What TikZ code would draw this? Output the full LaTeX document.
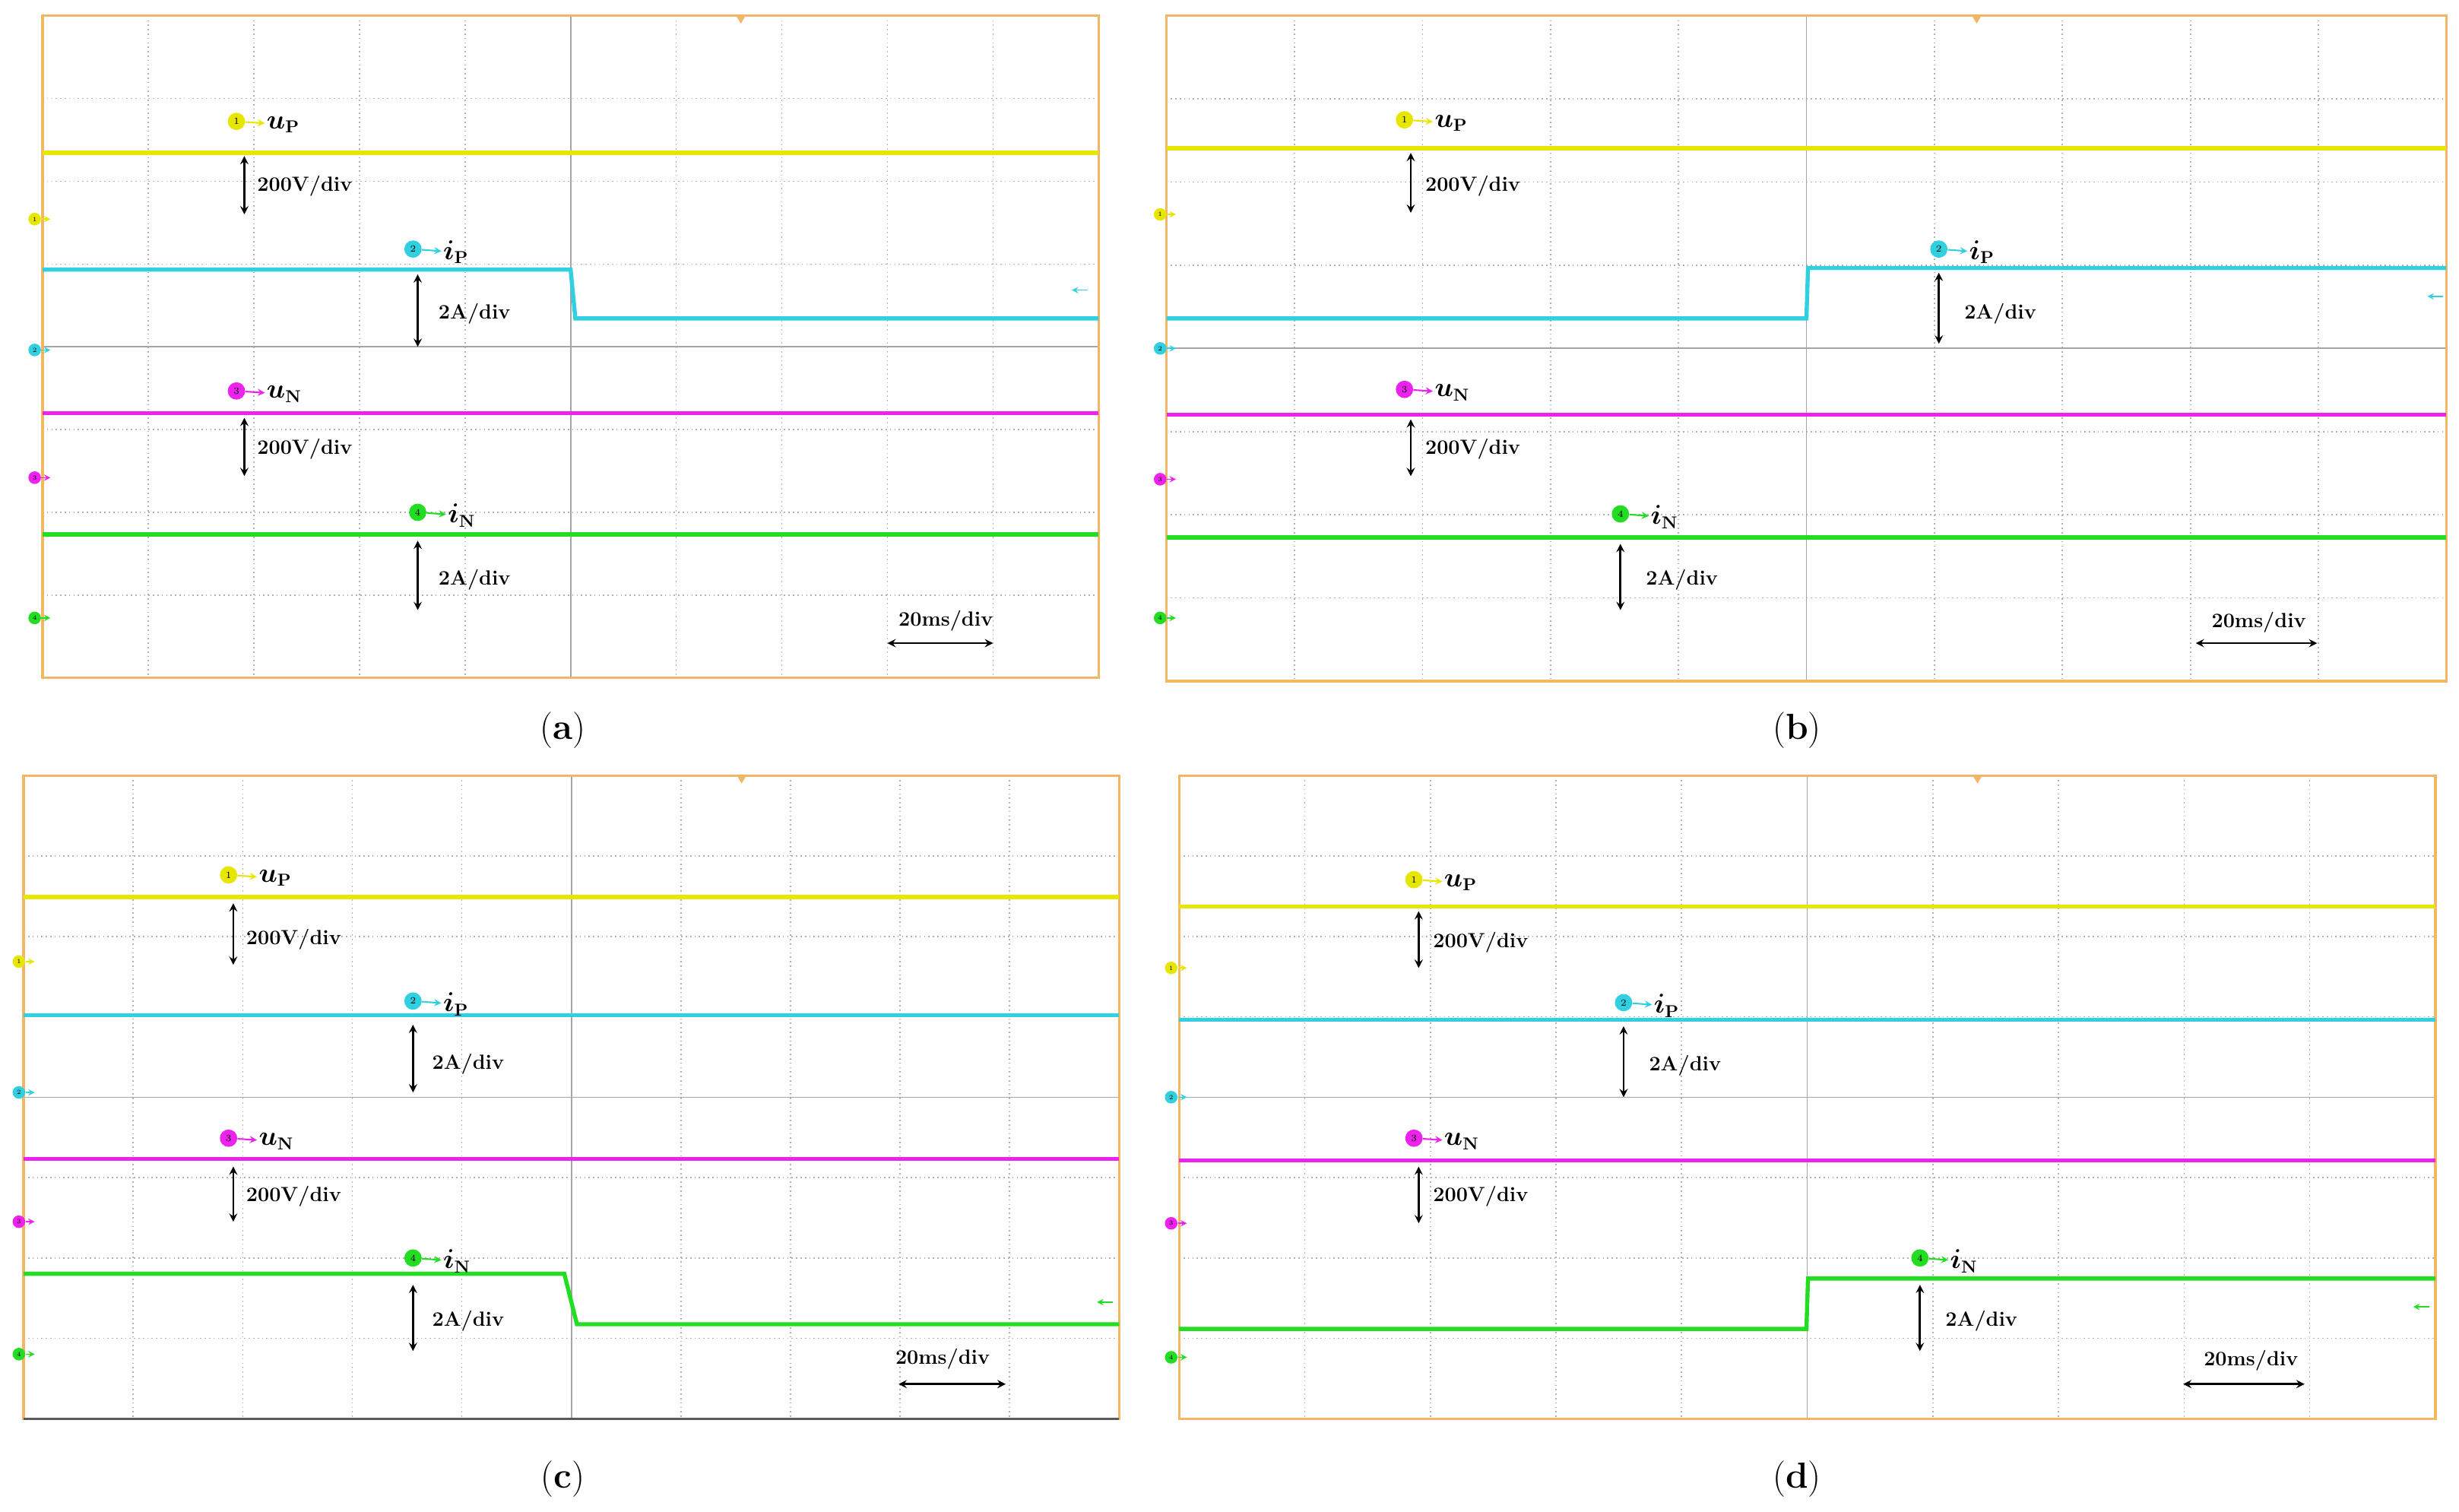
\documentclass[tikz,border=0pt]{standalone}
\usetikzlibrary{positioning}
\definecolor{chy}{HTML}{E6E600}
\definecolor{chc}{HTML}{30D0E0}
\definecolor{chm}{HTML}{EE22EE}
\definecolor{chg}{HTML}{22DD22}
\definecolor{frm}{HTML}{F2B765}
\tikzset{
  frame/.style={draw=frm,line width=1.6pt},
  griddot/.style={draw=gray!60,dotted,line width=0.8pt},
  gridaxis/.style={draw=gray!70,line width=0.8pt},
  trace/.style={line width=2.6pt},
  tag/.style={circle,fill=#1,inner sep=0pt,minimum size=11pt,font=\fontsize{6}{6}\selectfont},
  chname/.style={font=\fontsize{16}{18}\selectfont\bfseries\boldmath,inner sep=1pt},
  div/.style={font=\fontsize{13}{15}\selectfont\bfseries,anchor=west,inner sep=1pt},
  divarrow/.style={<->,>=stealth,line width=1.3pt},
  caption/.style={font=\fontsize{23}{26}\selectfont}
}
% screen with grid: x0 y0 x1 y1
\newcommand\oscgrid[4]{
  \foreach \i in {1,...,9}
    \draw[griddot] ({#1+\i*(#3-#1)/10},#2) -- ({#1+\i*(#3-#1)/10},#4);
  \foreach \j in {1,...,7}
    \draw[griddot] (#1,{#2+\j*(#4-#2)/8}) -- (#3,{#2+\j*(#4-#2)/8});
  \draw[gridaxis] ({(#1+#3)/2},#2) -- ({(#1+#3)/2},#4);
  \draw[gridaxis] (#1,{(#2+#4)/2}) -- (#3,{(#2+#4)/2});
  \draw[frame] (#1,#2) rectangle (#3,#4);
  \fill[frm] ({(#1+#3)/2+108},#2) -- ++(-3,0) -- ++(3,5) -- ++(3,-5) -- cycle;
}
% channel tag with name: id colour number x y text
\newcommand\chan[6]{
  \node[tag=#2] (#1) at (#4,#5) {#3};
  \node[chname,anchor=west] (#1l) at (#4+18,#5+2) {#6};
  \draw[#2,->,>=stealth,line width=1pt] (#1) -- (#1l);
}
% small channel marker on the left
\newcommand\chmark[5]{
  \node[tag=#2,minimum size=8pt,font=\fontsize{4}{4}\selectfont] (#1) at (#4,#5) {#3};
  \coordinate (#1e) at (#4+10,#5);
  \draw[#2,->,>=stealth,line width=0.8pt] (#1) -- (#1e);
}
\begin{document}
\begin{tikzpicture}[x=1pt,y=-1pt]
\useasboundingbox (0,0) rectangle (1560,959);

% ---- (a)
\oscgrid{27}{10}{697}{430}
\draw[trace,chy] (27,97) -- (697,97);
\draw[trace,chc] (27,171) -- (362,171) -- (365,202) -- (697,202);
\draw[trace,chm] (27,262) -- (697,262);
\draw[trace,chg] (27,339) -- (697,339);
\chan{a1}{chy}{1}{150}{77}{$u_{\mathrm{P}}$}
\chan{a2}{chc}{2}{262}{158}{$i_{\mathrm{P}}$}
\chan{a3}{chm}{3}{150}{248}{$u_{\mathrm{N}}$}
\chan{a4}{chg}{4}{265}{325}{$i_{\mathrm{N}}$}
\chmark{am1}{chy}{1}{22}{139}
\chmark{am2}{chc}{2}{22}{222}
\chmark{am3}{chm}{3}{22}{303}
\chmark{am4}{chg}{4}{22}{392}
\coordinate (at1) at (155,99); \coordinate (ab1) at (155,136);
\coordinate (at2) at (265,174); \coordinate (ab2) at (265,220);
\coordinate (at3) at (155,265); \coordinate (ab3) at (155,302);
\coordinate (at4) at (265,343); \coordinate (ab4) at (265,387);
\draw[divarrow] (at1) -- (ab1); \node[div] at (162,118) {200V/div};
\draw[divarrow] (at2) -- (ab2); \node[div] at (277,199) {2A/div};
\draw[divarrow] (at3) -- (ab3); \node[div] at (162,285) {200V/div};
\draw[divarrow] (at4) -- (ab4); \node[div] at (277,368) {2A/div};
\node[div,anchor=center] (ams) at (600,394) {20ms/div};
\coordinate (aml) at (563,408); \coordinate (amr) at (630,408);
\draw[divarrow] (aml) -- (amr);
\coordinate (ar1) at (680,184); \coordinate (ar2) at (690,184);
\draw[chc,<-,>=stealth,line width=0.8pt] (ar1) -- (ar2);
\node[caption] (capa) at (357,463) {(\textbf{a})};

% ---- (b)
\oscgrid{740}{10}{1552}{432}
\draw[trace,chy] (740,94) -- (1552,94);
\draw[trace,chc] (740,202) -- (1146,202) -- (1147,170) -- (1552,170);
\draw[trace,chm] (740,263) -- (1552,263);
\draw[trace,chg] (740,341) -- (1552,341);
\chan{b1}{chy}{1}{891}{76}{$u_{\mathrm{P}}$}
\chan{b2}{chc}{2}{1230}{158}{$i_{\mathrm{P}}$}
\chan{b3}{chm}{3}{891}{247}{$u_{\mathrm{N}}$}
\chan{b4}{chg}{4}{1028}{326}{$i_{\mathrm{N}}$}
\chmark{bm1}{chy}{1}{736}{136}
\chmark{bm2}{chc}{2}{736}{221}
\chmark{bm3}{chm}{3}{736}{304}
\chmark{bm4}{chg}{4}{736}{392}
\coordinate (bt1) at (895,97); \coordinate (bb1) at (895,135);
\coordinate (bt2) at (1230,173); \coordinate (bb2) at (1230,218);
\coordinate (bt3) at (895,266); \coordinate (bb3) at (895,302);
\coordinate (bt4) at (1028,345); \coordinate (bb4) at (1028,387);
\draw[divarrow] (bt1) -- (bb1); \node[div] at (903,118) {200V/div};
\draw[divarrow] (bt2) -- (bb2); \node[div] at (1245,199) {2A/div};
\draw[divarrow] (bt3) -- (bb3); \node[div] at (903,285) {200V/div};
\draw[divarrow] (bt4) -- (bb4); \node[div] at (1043,368) {2A/div};
\node[div,anchor=center] (bms) at (1433,395) {20ms/div};
\coordinate (bml) at (1393,408); \coordinate (bmr) at (1470,408);
\draw[divarrow] (bml) -- (bmr);
\coordinate (br1) at (1540,188); \coordinate (br2) at (1550,188);
\draw[chc,<-,>=stealth,line width=0.8pt] (br1) -- (br2);
\node[caption] (capb) at (1140,463) {(\textbf{b})};

% ---- (c)
\oscgrid{15}{492}{710}{900}
\draw[line width=1.4pt,gray!70!black] (15,900) -- (710,900);
\draw[trace,chy] (15,569) -- (710,569);
\draw[trace,chc] (15,644) -- (710,644);
\draw[trace,chm] (15,735) -- (710,735);
\draw[trace,chg] (15,808) -- (358,808) -- (366,840) -- (710,840);
\chan{c1}{chy}{1}{145}{555}{$u_{\mathrm{P}}$}
\chan{c2}{chc}{2}{262}{635}{$i_{\mathrm{P}}$}
\chan{c3}{chm}{3}{145}{722}{$u_{\mathrm{N}}$}
\chan{c4}{chg}{4}{262}{798}{$i_{\mathrm{N}}$}
\chmark{cm1}{chy}{1}{12}{610}
\chmark{cm2}{chc}{2}{12}{693}
\chmark{cm3}{chm}{3}{12}{775}
\chmark{cm4}{chg}{4}{12}{859}
\coordinate (ct1) at (148,573); \coordinate (cb1) at (148,612);
\coordinate (ct2) at (262,650); \coordinate (cb2) at (262,693);
\coordinate (ct3) at (148,740); \coordinate (cb3) at (148,775);
\coordinate (ct4) at (262,815); \coordinate (cb4) at (262,857);
\draw[divarrow] (ct1) -- (cb1); \node[div] at (155,596) {200V/div};
\draw[divarrow] (ct2) -- (cb2); \node[div] at (273,675) {2A/div};
\draw[divarrow] (ct3) -- (cb3); \node[div] at (155,759) {200V/div};
\draw[divarrow] (ct4) -- (cb4); \node[div] at (273,838) {2A/div};
\node[div,anchor=center] (cms) at (598,862) {20ms/div};
\coordinate (cml) at (570,878); \coordinate (cmr) at (638,878);
\draw[divarrow] (cml) -- (cmr);
\coordinate (cr1) at (696,826); \coordinate (cr2) at (706,826);
\draw[chg,<-,>=stealth,line width=0.8pt] (cr1) -- (cr2);
\node[caption] (capc) at (357,938) {(\textbf{c})};

% ---- (d)
\oscgrid{748}{492}{1545}{900}
\draw[trace,chy] (748,575) -- (1545,575);
\draw[trace,chc] (748,647) -- (1545,647);
\draw[trace,chm] (748,736) -- (1545,736);
\draw[trace,chg] (748,843) -- (1146,843) -- (1147,811) -- (1545,811);
\chan{d1}{chy}{1}{897}{558}{$u_{\mathrm{P}}$}
\chan{d2}{chc}{2}{1030}{636}{$i_{\mathrm{P}}$}
\chan{d3}{chm}{3}{897}{722}{$u_{\mathrm{N}}$}
\chan{d4}{chg}{4}{1218}{798}{$i_{\mathrm{N}}$}
\chmark{dm1}{chy}{1}{743}{614}
\chmark{dm2}{chc}{2}{743}{696}
\chmark{dm3}{chm}{3}{743}{776}
\chmark{dm4}{chg}{4}{743}{861}
\coordinate (dt1) at (900,578); \coordinate (db1) at (900,614);
\coordinate (dt2) at (1030,651); \coordinate (db2) at (1030,696);
\coordinate (dt3) at (900,740); \coordinate (db3) at (900,776);
\coordinate (dt4) at (1218,815); \coordinate (db4) at (1218,857);
\draw[divarrow] (dt1) -- (db1); \node[div] at (908,598) {200V/div};
\draw[divarrow] (dt2) -- (db2); \node[div] at (1045,676) {2A/div};
\draw[divarrow] (dt3) -- (db3); \node[div] at (908,759) {200V/div};
\draw[divarrow] (dt4) -- (db4); \node[div] at (1233,838) {2A/div};
\node[div,anchor=center] (dms) at (1428,863) {20ms/div};
\coordinate (dml) at (1385,878); \coordinate (dmr) at (1462,878);
\draw[divarrow] (dml) -- (dmr);
\coordinate (dr1) at (1531,829); \coordinate (dr2) at (1541,829);
\draw[chg,<-,>=stealth,line width=0.8pt] (dr1) -- (dr2);
\node[caption] (capd) at (1140,938) {(\textbf{d})};
\end{tikzpicture}
\end{document}
